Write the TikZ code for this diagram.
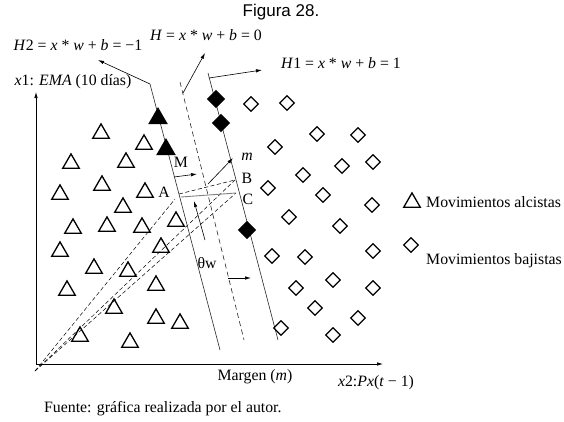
\documentclass[tikz,border=0pt]{standalone}
\usepackage{fontspec}
\setmainfont{Liberation Serif}
\newfontfamily\titlefont{Liberation Sans}
\usetikzlibrary{
  arrows.meta,
  shapes.geometric
}

\begin{document}
\begin{tikzpicture}[
    x=1pt, y=-1pt,
    >={Latex[length=6pt,width=3.5pt]},
    font=\fontsize{15.8}{18}\selectfont,
    tri/.style={
      regular polygon,
      regular polygon sides=3,
      draw,
      line width=1.3pt,
      minimum size=19pt,
      inner sep=0pt,
      yshift=-2.4pt
    },
    dia/.style={
      diamond,
      draw,
      line width=1.3pt,
      minimum width=15pt,
      minimum height=15pt,
      inner sep=0pt
    },
    filltri/.style={tri, fill=black, minimum size=20pt},
    filldia/.style={dia, fill=black, minimum width=17pt, minimum height=17pt},
    hyper/.style={line width=0.6pt, draw=black!85},
    ray/.style={line width=0.5pt, dash pattern=on 4pt off 2.5pt},
    lbl/.style={inner sep=1pt}
  ]
  \useasboundingbox (0,0) rectangle (564,421);

  % ========== Title and axes ==========
  \node[font=\titlefont\fontsize{17}{20}\selectfont] (title) at (281,12) {Figura 28.};

  \coordinate (ytip) at (36,92);
  \coordinate (xtip) at (383,364);
  \draw[<->,line width=0.7pt] (ytip) |- (xtip);

  \node[lbl] (ylab) at (73,82) {\textit{x}1: \textit{EMA} (10 días)};
  \node[lbl] (xlab) at (376,383) {\textit{x}2:\textit{Px}(\textit{t} − 1)};
  \node[lbl] (marg) at (255,377) {Margen (\textit{m})};

  % ========== Hyperplanes ==========
  \coordinate (h2a) at (150,84);
  \coordinate (h2b) at (220,350);
  \coordinate (ha) at (180,82);
  \coordinate (hb) at (244,340);
  \coordinate (h1a) at (208,73);
  \coordinate (h1b) at (278,340);

  \draw[hyper] (h2a)--(h2b);
  \draw[hyper,dashed,dash pattern=on 5pt off 3.5pt] (ha)--(hb);
  \draw[hyper] (h1a)--(h1b);

  \coordinate (h2end) at (98,60);
  \coordinate (hs) at (183,93);
  \coordinate (hend) at (205,53);
  \coordinate (h1s) at (209,78);
  \coordinate (h1end) at (262,70);

  \draw[->,line width=0.6pt] (h2a)--(h2end);
  \draw[->,line width=0.6pt] (hs)--(hend);
  \draw[->,line width=0.6pt] (h1s)--(h1end);

  \node[lbl] (h2lab) at (78,45) {\textit{H}2 = \textit{x} * \textit{w} + \textit{b} = −1};
  \node[lbl] (hlab) at (206,35) {\textit{H} = \textit{x} * \textit{w} + \textit{b} = 0};
  \node[lbl] (h1lab) at (341,63) {\textit{H}1 = \textit{x} * \textit{w} + \textit{b} = 1};

  % ========== Projections from the origin ==========
  \coordinate (oo) at (35,371);
  \coordinate (pa) at (175,199);
  \coordinate (pa2) at (179,194);
  \coordinate (pa3) at (181,197);
  \coordinate (pb) at (235,180);
  \coordinate (pc) at (236,193);

  \draw[ray] (oo)--(pa);
  \draw[ray] (oo)--(pb);
  \draw[ray] (oo)--(pc);
  \draw[ray] (pa2)--(pb);
  \draw[line width=0.9pt,gray] (pa3)--(pc);

  \coordinate (ms) at (174,177);
  \coordinate (me) at (197,174);
  \coordinate (ws) at (208,184);
  \coordinate (we) at (233,158);
  \coordinate (us) at (205,240);
  \coordinate (ue) at (194,201);
  \coordinate (ts) at (228,278);
  \coordinate (te) at (251,278);

  \draw[->,line width=0.6pt] (ms)--(me);
  \draw[->,line width=0.6pt] (ws)--(we);
  \draw[->,line width=0.6pt] (us)--(ue);
  \draw[->,line width=0.6pt] (ts)--(te);

  \node[lbl] (labM) at (181,162) {M};
  \node[lbl] (labm) at (247,157) {\textit{m}};
  \node[lbl] (labA) at (164,192) {A};
  \node[lbl] (labB) at (247,178) {B};
  \node[lbl] (labC) at (248,199) {C};
  \node[lbl] (labw) at (207,263) {θw};

  % ========== Samples ==========
  \foreach \x/\y [count=\i] in {101/131,144/142,71/161,126/160,60/192,102/183,
      145/190,123/205,73/226,107/224,142/225,176/219,60/249,161/245,94/266,
      128/269,67/288,156/283,114/306,156/316,180/321,80/334,130/340}
    \node[tri] (up\i) at (\x,\y) {};

  \foreach \x/\y [count=\i] in {251/104,287/103,317/134,358/135,275/147,
      342/166,373/162,303/175,268/188,323/195,372/205,289/217,340/226,
      272/256,305/257,373/251,333/280,296/288,373/288,315/308,358/318,
      281/328,333/335}
    \node[dia] (down\i) at (\x,\y) {};

  \node[filltri] (sv1) at (158,116) {};
  \node[filltri] (sv2) at (166,147) {};
  \node[filldia] (sv3) at (216,99) {};
  \node[filldia] (sv4) at (221,123) {};
  \node[filldia] (sv5) at (247,230) {};

  % ========== Legend ==========
  \node[tri] (legtri) at (412,200) {};
  \node[dia] (legdia) at (411,245) {};
  \node[lbl,anchor=west] (legup) at (425,202) {Movimientos alcistas};
  \node[lbl,anchor=west] (legdown) at (425,261) {Movimientos bajistas};

  \node[lbl,anchor=west] (src) at (43,409) {Fuente: gráfica realizada por el autor.};
\end{tikzpicture}
\end{document}
